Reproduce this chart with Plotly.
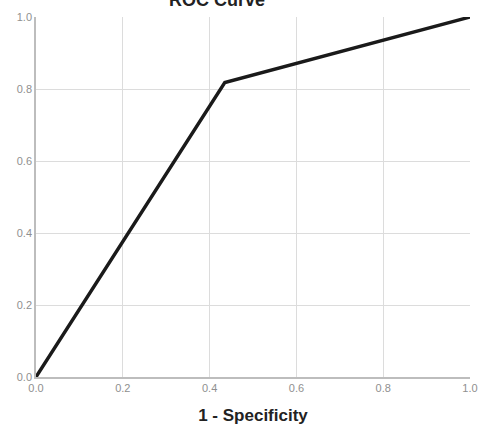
import plotly.graph_objects as go

fpr = [0.0, 0.435, 1.0]
tpr = [0.0, 0.818, 1.0]
tick_vals = [0.0, 0.2, 0.4, 0.6, 0.8, 1.0]
tick_text = ["0.0", "0.2", "0.4", "0.6", "0.8", "1.0"]

fig = go.Figure()
fig.add_trace(go.Scatter(x=fpr, y=tpr, mode="lines",
                         line=dict(color="#1a1a1a", width=3.4), showlegend=False))

axis_common = dict(range=[0, 1], tickvals=tick_vals, ticktext=tick_text,
                   showgrid=True, gridcolor="#dcdcdc", gridwidth=1,
                   zeroline=False, showline=True, linecolor="#bdbdbd", linewidth=1.5,
                   tickfont=dict(family="Liberation Sans", size=11, color="#8f8f8f"),
                   ticks="", fixedrange=True, automargin=False)

fig.update_layout(
    width=480, height=425,
    margin=dict(l=36, r=10, t=17, b=48),
    paper_bgcolor="white", plot_bgcolor="white",
    title=dict(text="<b>ROC Curve</b>", x=0.452, xanchor="center", y=1.0, yanchor="middle",
               yref="container", font=dict(family="Liberation Sans", size=18, color="#222")),
    xaxis=dict(**axis_common,
               title=dict(text="<b>1 - Specificity</b>", standoff=16,
                          font=dict(family="Liberation Sans", size=17, color="#222"))),
    yaxis=dict(**axis_common),
)
fig.add_annotation(text="Curve", xref="paper", yref="paper", x=-0.085, y=1.08,
                   xanchor="left", yanchor="middle", showarrow=False,
                   font=dict(family="Liberation Serif", size=16, color="#222"))

fig.write_html("out.html", config={"displayModeBar": False},
               post_script="document.body.style.margin='0';document.body.style.overflow='hidden';")
